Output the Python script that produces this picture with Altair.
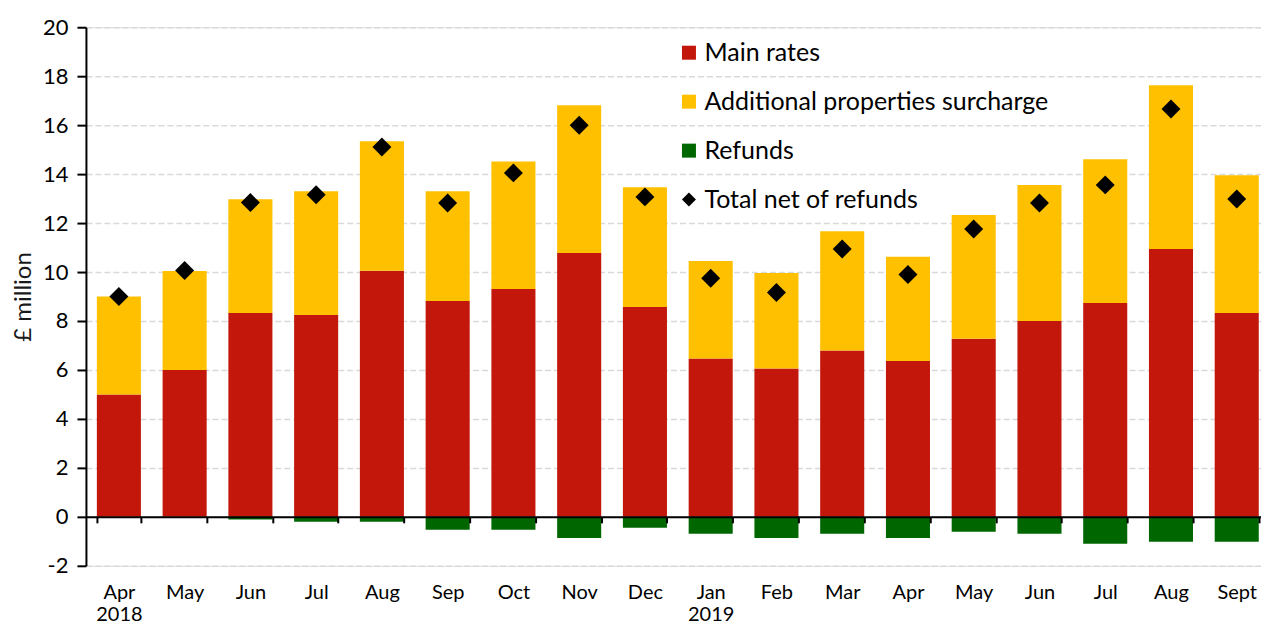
import altair as alt
import pandas as pd

months = ["Apr 2018", "May 2018", "Jun 2018", "Jul 2018", "Aug 2018", "Sep 2018",
          "Oct 2018", "Nov 2018", "Dec 2018", "Jan 2019", "Feb 2019", "Mar 2019",
          "Apr 2019", "May 2019", "Jun 2019", "Jul 2019", "Aug 2019", "Sept 2019"]
main_rates = [5.0, 6.0, 8.33, 8.25, 10.05, 8.82, 9.31, 10.78, 8.57, 6.47, 6.06, 6.79,
              6.37, 7.27, 8.0, 8.74, 10.94, 8.33]
surcharge = [4.0, 4.04, 4.64, 5.05, 5.29, 4.48, 5.21, 6.03, 4.89, 3.98, 3.90, 4.88,
             4.25, 5.06, 5.56, 5.87, 6.69, 5.62]
refunds = [0.0, 0.0, -0.11, -0.2, -0.2, -0.53, -0.53, -0.86, -0.45, -0.69, -0.86, -0.69,
           -0.86, -0.61, -0.69, -1.1, -1.02, -1.02]
net_total = [9.0, 10.06, 12.84, 13.16, 15.11, 12.82, 14.05, 16.0, 13.07, 9.75, 9.16, 10.94,
             9.9, 11.76, 12.82, 13.56, 16.66, 12.98]
two_line_labels = ["Apr 2018", "Jan 2019"]

series = ["Main rates", "Additional properties surcharge", "Refunds", "Total net of refunds"]
colors = ["#C3170B", "#FFC000", "#006600", "#000000"]
shapes = ["square", "square", "square", "diamond"]
y_ticks = list(range(-2, 21, 2))

rows = []
for i, m in enumerate(months):
    for j, (s, vals) in enumerate(zip(series[:3], [main_rates, surcharge, refunds])):
        rows.append({"month": m, "series": s, "value": vals[i], "order": j})
bars_df = pd.DataFrame(rows)
net_df = pd.DataFrame({"month": months, "series": series[3], "value": net_total})

FONT = "Lato"
W, H = 1176, 539
zero_offset = -round(H * 2 / 22)

label_expr = ("isValid(datum.value) ? (indexof(" + str(two_line_labels) + ", datum.value) >= 0 ? "
              "split(datum.value, ' ') : split(datum.value, ' ')[0]) : ''")

x_enc = alt.X(
    "month:N", sort=months, title=None,
    scale=alt.Scale(paddingInner=0.33, paddingOuter=0.1, align=0.83),
    axis=alt.Axis(offset=zero_offset, domainColor="black", domainWidth=2,
                  ticks=True, tickBand="extent", tickColor="black", tickWidth=2, tickSize=6,
                  labelPadding=60, labelAngle=0, labelFontSize=20, labelFont=FONT,
                  labelColor="black", labelLineHeight=22, labelBaseline="top",
                  grid=False, labelExpr=label_expr, zindex=1),
)

y_scale = alt.Scale(domain=[-2, 20], nice=False, zero=False)
y_axis = alt.Axis(values=y_ticks, title="£ million", titleFontSize=24, titleFont=FONT,
                  titleFontWeight="normal", titleColor="#1a1a1a", titlePadding=7,
                  labelFontSize=22, labelFont=FONT, labelColor="black", labelPadding=9,
                  labelExpr="toString(datum.value)",
                  gridColor="#D9D9D9", gridDash=[6, 3], gridWidth=1.5,
                  domainColor="black", domainWidth=2, tickColor="black", tickWidth=2,
                  tickSize=9)

color_scale = alt.Scale(domain=series, range=colors)
legend = alt.Legend(title=None, orient="none", legendX=591, legendY=13,
                    labelFontSize=25, labelFont=FONT, labelColor="black", labelLimit=0,
                    symbolSize=196, symbolStrokeWidth=0, labelOffset=3,
                    rowPadding=23, padding=0)

bars = alt.Chart(bars_df).mark_bar().encode(
    x=x_enc,
    y=alt.Y("value:Q", stack="zero", scale=y_scale, axis=y_axis),
    color=alt.Color("series:N", scale=color_scale, legend=legend),
    order=alt.Order("order:Q"),
)

points = alt.Chart(net_df).mark_point(shape="diamond", filled=True, size=360, opacity=1).encode(
    x=alt.X("month:N", sort=months),
    y=alt.Y("value:Q"),
    color=alt.Color("series:N", scale=color_scale, legend=legend),
    shape=alt.Shape("series:N", scale=alt.Scale(domain=series, range=shapes), legend=legend),
)

chart = alt.layer(bars, points).properties(
    width=W, height=H,
    padding={"left": 3, "right": 0, "top": 8, "bottom": 0},
).configure_view(stroke=None).configure(font=FONT)

chart.save("out.html", embed_options={"renderer": "svg", "actions": False})
